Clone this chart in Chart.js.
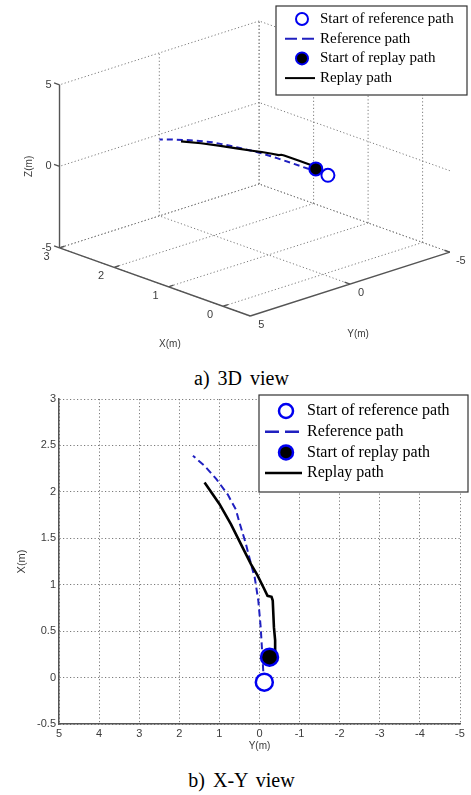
<!DOCTYPE html>
<html>
<head>
<meta charset="utf-8">
<script src="https://cdn.jsdelivr.net/npm/chart.js@4.4.1/dist/chart.umd.min.js"></script>
<style>
  body { margin: 0; background: #fff; width: 471px; height: 795px; position: relative; overflow: hidden; }
  canvas { position: absolute; left: 0; }
  #view3d { top: 0; }
  #viewXY { top: 388px; }
  .caption {
    position: absolute; left: 6px; width: 471px; text-align: center;
    font: 20px "Liberation Serif", "Times New Roman", serif;
    word-spacing: 3px; line-height: 24px; color: #000;
  }
</style>
</head>
<body>
<canvas id="view3d" width="471" height="362"></canvas>
<div class="caption" style="top:366px">a) 3D view</div>
<canvas id="viewXY" width="471" height="372"></canvas>
<div class="caption" style="top:768px">b) X-Y view</div>
<script>
// reference path (blue dashed), from its start point
const refY = [-0.12, -0.10, -0.07, -0.03, 0.03, 0.12, 0.21, 0.34, 0.50, 0.59, 0.79, 1.08, 1.37, 1.66];
const refX = [-0.05, 0.02, 0.25, 0.54, 0.83, 1.08, 1.22, 1.44, 1.67, 1.81, 1.97, 2.14, 2.28, 2.39];
const refZ = [1.09, 1.09, 1.10, 1.12, 1.15, 1.18, 1.20, 1.20, 1.19, 1.17, 1.14, 1.11, 1.09, 1.07];

// replay path (black), from its start
const replayY = [-0.40, -0.39, -0.36, -0.33, -0.30, -0.20, -0.10, 0.05, 0.21, 0.42, 0.71, 1.00, 1.37];
const replayX = [0.22, 0.40, 0.54, 0.83, 0.87, 0.88, 0.97, 1.10, 1.22, 1.40, 1.65, 1.87, 2.10];
const replayZ = [1.12, 1.13, 1.15, 1.17, 1.18, 1.19, 1.20, 1.21, 1.21, 1.21, 1.20, 1.20, 1.19];

// start markers [X, Y, Z]
const refStart = [-0.05, -0.12, 1.09];
const replayStart = [0.22, -0.25, 1.11];

// 3D axes
const xlim3d = [-0.5, 3], ylim3d = [-5, 5], zlim3d = [-5, 5];
const xTicks3d = [0, 1, 2, 3];
const yTicks3d = [-5, 0, 5];
const zTicks3d = [-5, 0, 5];

const legendOrder = ['Start of reference path', 'Reference path', 'Start of replay path', 'Replay path'];

const blue = '#0000f0';
const dashBlue = '#2020c0';
const gridGrey = '#7a7a7a';
const axisGrey = '#555';
const tickFont = '11px "Liberation Sans", Arial, sans-serif';
const titleFont = '10px "Liberation Sans", Arial, sans-serif';

// camera like matlab view(az, el)
const az = -133.4 * Math.PI / 180;
const el = 20 * Math.PI / 180;
const boxLen = [288, 285, 182];
const boxCentre = [255.4, 167.9];

function project(X, Y, Z) {
  const nx = (X - (xlim3d[0] + xlim3d[1]) / 2) / (xlim3d[1] - xlim3d[0]) * boxLen[0];
  const ny = (Y - (ylim3d[0] + ylim3d[1]) / 2) / (ylim3d[1] - ylim3d[0]) * boxLen[1];
  const nz = (Z - (zlim3d[0] + zlim3d[1]) / 2) / (zlim3d[1] - zlim3d[0]) * boxLen[2];
  return {
    x: nx * Math.cos(az) + ny * Math.sin(az),
    y: -nx * Math.sin(el) * Math.sin(az) + ny * Math.sin(el) * Math.cos(az) + nz * Math.cos(el)
  };
}

const gap = () => ({x: NaN, y: NaN});
function segments(list) {
  let out = [];
  list.forEach(([a, b]) => { out.push(project(...a), project(...b), gap()); });
  return out;
}

const [x0, x1] = xlim3d, [y0, y1] = ylim3d, [z0, z1] = zlim3d;

let gridSegs = [];
xTicks3d.forEach(x => {
  gridSegs.push([[x, y0, z0], [x, y1, z0]]);
  gridSegs.push([[x, y0, z0], [x, y0, z1]]);
});
yTicks3d.forEach(y => {
  gridSegs.push([[x0, y, z0], [x1, y, z0]]);
  gridSegs.push([[x1, y, z0], [x1, y, z1]]);
});
zTicks3d.forEach(z => {
  gridSegs.push([[x1, y0, z], [x1, y1, z]]);
  gridSegs.push([[x0, y0, z], [x1, y0, z]]);
});

let axisSegs = [
  [[x0, y1, z0], [x1, y1, z0]],
  [[x0, y0, z0], [x0, y1, z0]],
  [[x1, y1, z0], [x1, y1, z1]]
];
xTicks3d.forEach(x => axisSegs.push([[x, y1, z0], [x, y1 - 0.25, z0]]));
yTicks3d.forEach(y => axisSegs.push([[x0, y, z0], [x0 + 0.1, y, z0]]));
zTicks3d.forEach(z => axisSegs.push([[x1, y1, z], [x1 + 0.1, y1, z]]));

function boxLegend(cfg) {
  return {
    id: 'boxLegend',
    afterDraw(chart) {
      const ctx = chart.ctx;
      ctx.save();
      ctx.fillStyle = '#fff';
      ctx.fillRect(cfg.x, cfg.y, cfg.w, cfg.h);
      ctx.strokeStyle = '#333';
      ctx.lineWidth = 1.2;
      ctx.strokeRect(cfg.x, cfg.y, cfg.w, cfg.h);
      ctx.font = cfg.font;
      ctx.textBaseline = 'middle';
      ctx.textAlign = 'left';
      legendOrder.forEach((label, i) => {
        const ds = chart.data.datasets.find(d => d.label === label);
        const y = cfg.y + cfg.first + i * cfg.step;
        if (ds.showLine) {
          ctx.beginPath();
          ctx.setLineDash(ds.borderDash ? cfg.dash : []);
          ctx.lineWidth = cfg.lineWidth;
          ctx.strokeStyle = ds.borderColor;
          ctx.moveTo(cfg.lineFrom, y);
          ctx.lineTo(cfg.lineTo, y);
          ctx.stroke();
          ctx.setLineDash([]);
        } else {
          ctx.beginPath();
          ctx.arc(cfg.mark, y, cfg.r, 0, 2 * Math.PI);
          ctx.fillStyle = ds.pointBackgroundColor;
          ctx.fill();
          ctx.lineWidth = ds.pointBorderWidth;
          ctx.strokeStyle = ds.pointBorderColor;
          ctx.stroke();
        }
        ctx.fillStyle = '#000';
        ctx.fillText(ds.label, cfg.text, y);
      });
      ctx.restore();
    }
  };
}

// tick labels and axis names of the 3D box
const labels3d = {
  id: 'labels3d',
  afterDatasetsDraw(chart) {
    const ctx = chart.ctx, sx = chart.scales.x, sy = chart.scales.y;
    const px = (X, Y, Z) => {
      const q = project(X, Y, Z);
      return [sx.getPixelForValue(q.x), sy.getPixelForValue(q.y)];
    };
    ctx.save();
    ctx.fillStyle = '#3c3c3c';
    ctx.font = tickFont;
    ctx.textBaseline = 'middle';
    ctx.textAlign = 'right';
    zTicks3d.forEach(z => {
      const [x, y] = px(x1, y1, z);
      ctx.fillText(String(z), x - 8, y);
    });
    ctx.textAlign = 'center';
    xTicks3d.forEach(v => {
      const [x, y] = px(v, y1, z0);
      ctx.fillText(String(v), x - 13, y + 9);
    });
    yTicks3d.forEach(v => {
      const [x, y] = px(x0, v, z0);
      ctx.fillText(String(v), x + 11, y + 9);
    });
    ctx.font = titleFont;
    let [tx, ty] = px((x0 + x1) / 2, y1, z0);
    ctx.fillText('X(m)', tx + 15, ty + 62);
    [tx, ty] = px(x0, (y0 + y1) / 2, z0);
    ctx.fillText('Y(m)', tx + 8, ty + 50);
    [tx, ty] = px(x1, y1, (z0 + z1) / 2);
    ctx.translate(tx - 30, ty);
    ctx.rotate(-Math.PI / 2);
    ctx.fillText('Z(m)', 0, 0);
    ctx.restore();
  }
};

const cv1 = document.getElementById('view3d');
new Chart(cv1, {
  type: 'scatter',
  data: {
    datasets: [
      {
        label: 'Start of reference path',
        data: [project(...refStart)],
        pointRadius: 6.5, pointBorderWidth: 2,
        pointBorderColor: blue, pointBackgroundColor: '#fff', order: 0
      },
      {
        label: 'Start of replay path',
        data: [project(...replayStart)],
        pointRadius: 6.5, pointBorderWidth: 2,
        pointBorderColor: blue, pointBackgroundColor: '#000', order: 1
      },
      {
        label: 'Replay path',
        data: replayX.map((x, i) => project(x, replayY[i], replayZ[i])),
        showLine: true, pointRadius: 0, borderWidth: 2.2,
        borderColor: '#000', order: 2
      },
      {
        label: 'Reference path',
        data: refX.map((x, i) => project(x, refY[i], refZ[i])),
        showLine: true, pointRadius: 0, borderWidth: 2,
        borderColor: dashBlue, borderDash: [6, 4], order: 3
      },
      {
        label: 'axes',
        data: segments(axisSegs),
        showLine: true, pointRadius: 0, borderWidth: 1.4,
        borderColor: axisGrey, spanGaps: false, order: 4
      },
      {
        label: 'grid',
        data: segments(gridSegs),
        showLine: true, pointRadius: 0, borderWidth: 1,
        borderColor: gridGrey, borderDash: [1.2, 2.3], spanGaps: false, order: 5
      }
    ]
  },
  options: {
    responsive: false,
    animation: false,
    events: [],
    devicePixelRatio: 1,
    layout: { padding: 0 },
    plugins: { legend: { display: false }, tooltip: { enabled: false } },
    scales: {
      x: { type: 'linear', display: false, min: -boxCentre[0], max: cv1.width - boxCentre[0] },
      y: { type: 'linear', display: false, min: boxCentre[1] - cv1.height, max: boxCentre[1] }
    }
  },
  plugins: [labels3d, boxLegend({
    x: 276, y: 6, w: 191, h: 89, first: 13, step: 19.7,
    mark: 302, r: 6, lineFrom: 285, lineTo: 315, dash: [12, 5], lineWidth: 2,
    text: 320, font: '15px "Liberation Serif", "Times New Roman", serif'
  })]
});

// X-Y view
const cv2 = document.getElementById('viewXY');
const plainNum = v => String(Math.round(v * 10) / 10);
new Chart(cv2, {
  type: 'scatter',
  data: {
    datasets: [
      {
        label: 'Start of reference path',
        data: [{x: refStart[1], y: refStart[0]}],
        pointRadius: 8.5, pointBorderWidth: 2.5,
        pointBorderColor: blue, pointBackgroundColor: '#fff', order: 0
      },
      {
        label: 'Start of replay path',
        data: [{x: replayStart[1], y: replayStart[0]}],
        pointRadius: 8.5, pointBorderWidth: 2.5,
        pointBorderColor: blue, pointBackgroundColor: '#000', order: 1
      },
      {
        label: 'Replay path',
        data: replayX.map((x, i) => ({x: replayY[i], y: x})),
        showLine: true, pointRadius: 0, borderWidth: 2.6,
        borderColor: '#000', order: 2
      },
      {
        label: 'Reference path',
        data: refX.map((x, i) => ({x: refY[i], y: x})),
        showLine: true, pointRadius: 0, borderWidth: 2,
        borderColor: dashBlue, borderDash: [7, 4], order: 3
      }
    ]
  },
  options: {
    responsive: false,
    animation: false,
    events: [],
    devicePixelRatio: 1,
    layout: { padding: { top: 10, right: 8, left: 0, bottom: 0 } },
    plugins: { legend: { display: false }, tooltip: { enabled: false } },
    scales: {
      x: {
        type: 'linear', min: -5, max: 5, reverse: true,
        afterFit: s => { s.height = 36; },
        ticks: { stepSize: 1, padding: 3, color: '#3c3c3c', callback: plainNum,
          font: { family: '"Liberation Sans", Arial, sans-serif', size: 11 } },
        grid: { color: gridGrey, lineWidth: 1, drawTicks: false },
        border: { display: true, color: axisGrey, width: 1.5, dash: [1.2, 2.3] },
        title: { display: true, text: 'Y(m)', color: '#3c3c3c', padding: { top: 0, bottom: 8 },
          font: { family: '"Liberation Sans", Arial, sans-serif', size: 10 } }
      },
      y: {
        type: 'linear', min: -0.5, max: 3,
        afterFit: s => { s.width = 59; },
        ticks: { stepSize: 0.5, padding: 3, color: '#3c3c3c', callback: plainNum,
          font: { family: '"Liberation Sans", Arial, sans-serif', size: 11 } },
        grid: { color: gridGrey, lineWidth: 1, drawTicks: false },
        border: { display: true, color: axisGrey, width: 1.5, dash: [1.2, 2.3] },
        title: { display: true, text: 'X(m)', color: '#3c3c3c', padding: { top: 15, bottom: 0 },
          font: { family: '"Liberation Sans", Arial, sans-serif', size: 11 } }
      }
    }
  },
  plugins: [boxLegend({
    x: 259, y: 7, w: 209, h: 97, first: 16, step: 20.7,
    mark: 286, r: 7, lineFrom: 265, lineTo: 302, dash: [14, 6], lineWidth: 2.5,
    text: 307, font: '16px "Liberation Serif", "Times New Roman", serif'
  })]
});
</script>
</body>
</html>
